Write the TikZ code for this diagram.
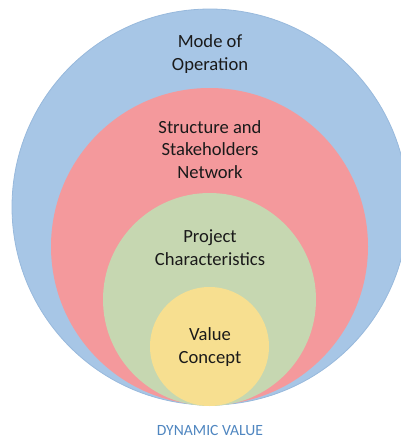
\documentclass[tikz,border=0pt]{standalone}
\usepackage{fontspec}
\setmainfont{Carlito}
\definecolor{cblue}{HTML}{A7C6E6}
\definecolor{cblueedge}{HTML}{98B9DC}
\definecolor{cred}{HTML}{F4999C}
\definecolor{cgreen}{HTML}{C6D7B1}
\definecolor{cyellow}{HTML}{F7DF90}
\definecolor{ctext}{HTML}{1A1A1A}
\definecolor{clabel}{HTML}{4F86C0}
\tikzset{
  ringtext/.style={align=center, text=ctext, font=\fontsize{18.6}{22.8}\selectfont, inner sep=0pt},
}
\begin{document}
\begin{tikzpicture}[x=1pt,y=-1pt]
\useasboundingbox (0,0) rectangle (401,439);
\clip (0,0) rectangle (401,439);
\fill[cblue, draw=cblueedge, line width=0.8pt] (210,207) circle[radius=198];
\fill[cred] (209.5,246.5) circle[radius=158.5];
\fill[cgreen] (209.5,299.5) circle[radius=106.5];
\fill[cyellow] (209.5,346.5) circle[radius=59.5];
\node[ringtext] (mode) at (210,54) {Mode of\\Operation};
\node[ringtext] (struct) at (210,149.5) {Structure and\\Stakeholders\\Network};
\node[ringtext] (proj) at (210,248) {Project\\Characteristics};
\node[ringtext] (val) at (210,347) {Value\\Concept};
\node[font=\fontsize{15.6}{18}\selectfont, text=clabel, inner sep=0pt] (dyn) at (210,430) {DYNAMIC VALUE};
\end{tikzpicture}
\end{document}
